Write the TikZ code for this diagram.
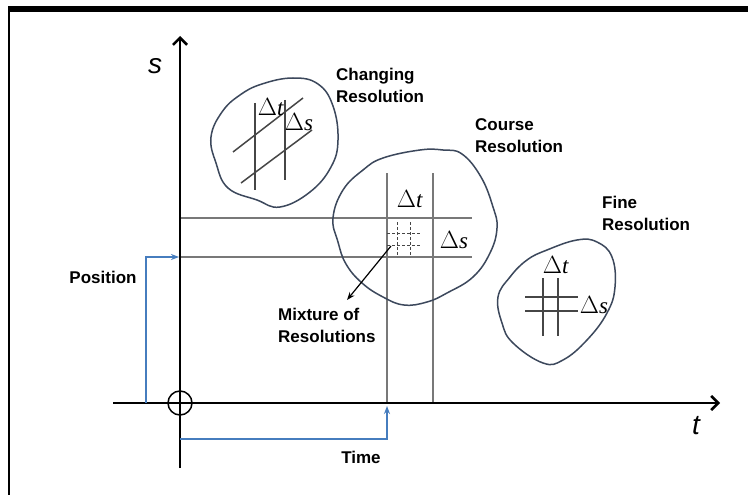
\documentclass[tikz,border=0pt]{standalone}
\usepackage{fontspec}
\setmainfont{Liberation Sans}
\newfontfamily\deltafont{Liberation Serif}
\usetikzlibrary{arrows.meta}
\definecolor{gridgray}{RGB}{120,120,120}
\definecolor{darkline}{RGB}{70,70,70}
\definecolor{blobcol}{RGB}{60,72,92}
\definecolor{bluearr}{RGB}{70,125,190}
\begin{document}
\begin{tikzpicture}[x=1pt,y=-1pt,
  lbl/.style={font=\fontsize{17}{22}\selectfont\bfseries, align=left, inner sep=0pt},
  dl/.style={font=\deltafont\fontsize{23}{23}\selectfont, inner sep=0pt},
  axlbl/.style={font=\fontsize{28}{28}\selectfont\itshape, inner sep=0pt},
  gridline/.style={draw=gridgray, line width=1.7pt},
  smallgrid/.style={draw=darkline, line width=1.5pt},
  dashgrid/.style={draw=darkline, line width=1pt, dash pattern=on 3pt off 2pt},
  blob/.style={draw=blobcol, line width=1.5pt},
  axisline/.style={line width=2.6pt, -{Straight Barb[length=7pt,width=14pt]}},
  bluepath/.style={draw=bluearr, line width=1.6pt, -{Stealth[length=8pt,width=6pt]}},
]
\useasboundingbox (0,0) rectangle (748,495);
\fill[white] (0,0) rectangle (748,495);
% frame
\fill[black] (8,6) rectangle (748,12);
\draw[line width=2pt] (9,11) -- (9,495);

% coordinates
\coordinate (sbot) at (180,468);
\coordinate (stop) at (180,36);
\coordinate (tleft) at (113,403);
\coordinate (tright) at (720,403);

% horizontal / vertical gray lines
\coordinate (h1a) at (180,218); \coordinate (h1b) at (472,218);
\coordinate (h2a) at (180,257); \coordinate (h2b) at (472,257);
\coordinate (v1a) at (387,173); \coordinate (v1b) at (387,403);
\coordinate (v2a) at (433,173); \coordinate (v2b) at (433,403);
\draw[gridline] (h1a) -- (h1b);
\draw[gridline] (h2a) -- (h2b);
\draw[gridline] (v1a) -- (v1b);
\draw[gridline] (v2a) -- (v2b);

% dashed small grid
\draw[dashgrid] (387,233) -- (420,233);
\draw[dashgrid] (387,245) -- (420,245);
\draw[dashgrid] (397,222) -- (397,257);
\draw[dashgrid] (410,222) -- (410,257);

% blobs
\draw[blob] plot[smooth cycle, tension=0.7] coordinates {(211,137) (222,112) (240,95) (262,84) (293,78) (318,84) (333,106) (338,140) (331,167) (310,192) (280,207) (257,200) (228,188) (216,163)};
\draw[blob] plot[smooth cycle, tension=0.7] coordinates {(363,170) (383,158) (420,150) (443,150) (462,154) (481,177) (493,207) (497,228) (490,253) (473,277) (447,293) (427,302) (404,305) (383,297) (362,283) (346,264) (338,242) (333,218) (343,190)};
\draw[blob] plot[smooth cycle, tension=0.7] coordinates {(527,260) (547,250) (577,240) (597,242) (612,257) (615,287) (607,313) (587,340) (563,360) (543,363) (513,343) (502,323) (498,297) (510,277)};

% grid inside changing blob
\draw[smallgrid] (255,103) -- (255,190);
\draw[smallgrid] (285,100) -- (285,180);
\draw[smallgrid] (233,152) -- (303,98);
\draw[smallgrid] (241,183) -- (312,130);
% grid inside fine blob
\draw[smallgrid] (543,278) -- (543,336);
\draw[smallgrid] (558,278) -- (558,336);
\draw[smallgrid] (525,297) -- (578,297);
\draw[smallgrid] (525,311) -- (578,311);

% delta labels
\node[dl] (dt1) at (271,107) {$\Delta$\textit{t}};
\node[dl] (ds1) at (299,122) {$\Delta$\textit{s}};
\node[dl] (dt2) at (410,199) {$\Delta$\textit{t}};
\node[dl] (ds2) at (454,240) {$\Delta$\textit{s}};
\node[dl] (dt3) at (556,265) {$\Delta$\textit{t}};
\node[dl] (ds3) at (594,305) {$\Delta$\textit{s}};

% axes
\draw[axisline] (sbot) -- (stop);
\draw[axisline] (tleft) -- (tright);
\node[draw, circle, line width=1.5pt, minimum size=24pt, inner sep=0pt] (origin) at (180,403) {};

\node[axlbl] (slbl) at (155,66) {s};
\node[axlbl] (tlbl) at (696,426) {t};

% labels
\node[lbl, anchor=west] (chg) at (336,85) {Changing\\Resolution};
\node[lbl, anchor=west] (crs) at (475,136) {Course\\Resolution};
\node[lbl, anchor=west] (fin) at (602,213) {Fine\\Resolution};
\node[lbl, anchor=west] (mix) at (278,325) {Mixture of\\Resolutions};
\node[lbl] (pos) at (103,277) {Position};
\node[lbl] (tim) at (361,457) {Time};

% mixture arrow
\coordinate (mixstart) at (391,246);
\coordinate (mixend) at (347,300);
\draw[line width=1.2pt, -{Stealth[length=8pt,width=6pt]}] (mixstart) -- (mixend);

% blue paths
\coordinate (pstart) at (146,403);
\coordinate (pcorner) at (146,257);
\coordinate (pend) at (179,257);
\draw[bluepath] (pstart) -- (pcorner) -- (pend);
\coordinate (tstart) at (180,439);
\coordinate (tcorner) at (387,439);
\coordinate (tend) at (387,406);
\draw[bluepath] (tstart) -- (tcorner) -- (tend);
\end{tikzpicture}
\end{document}
